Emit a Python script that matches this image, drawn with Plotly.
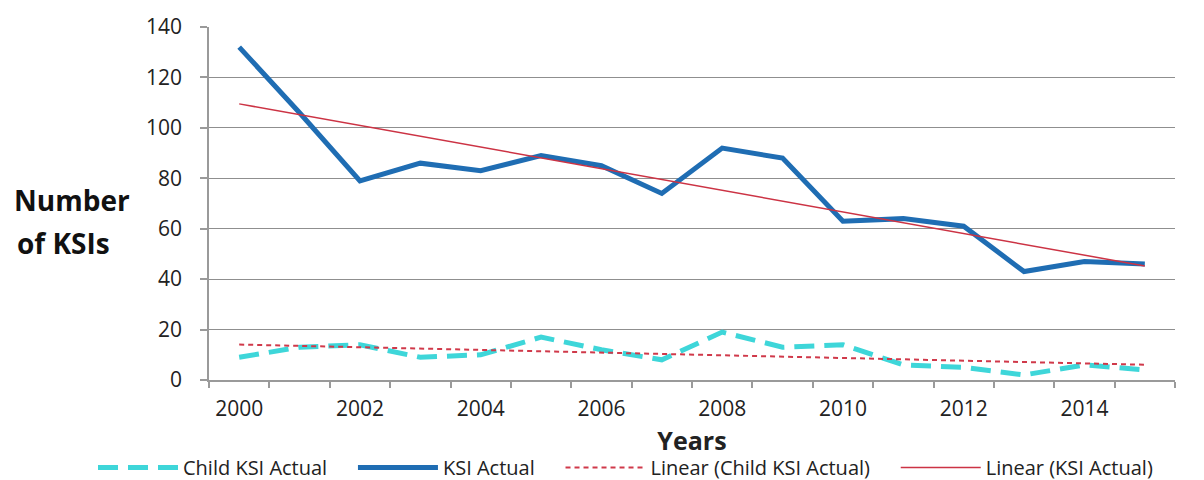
import numpy as np
import plotly.graph_objects as go

years = list(range(2000, 2016))
ksi_actual = [132, 106, 79, 86, 83, 89, 85, 74, 92, 88, 63, 64, 61, 43, 47, 46]
child_ksi_actual = [9, 13, 14, 9, 10, 17, 12, 8, 19, 13, 14, 6, 5, 2, 6, 4]
y_ticks = [0, 20, 40, 60, 80, 100, 120, 140]
x_tick_labels = [2000, 2002, 2004, 2006, 2008, 2010, 2012, 2014]

x = np.array(years, dtype=float)
k_fit = np.polyval(np.polyfit(x, ksi_actual, 1), x)
c_fit = np.polyval(np.polyfit(x, child_ksi_actual, 1), x)

FONT = "Open Sans"
W, H = 1196, 472
ML, MT, MR, MB = 201, 19, 29, 100
PH = H - MT - MB
PW = W - ML - MR
PAD = "\u00a0" * 4

fig = go.Figure()
fig.add_trace(go.Scatter(x=years, y=child_ksi_actual, mode="lines", name="Child KSI Actual" + PAD,
                         line=dict(color="#3ed6d9", width=5, dash="20px,10px")))
fig.add_trace(go.Scatter(x=years, y=ksi_actual, mode="lines", name="KSI Actual" + PAD,
                         line=dict(color="#1f6db3", width=5)))
fig.add_trace(go.Scatter(x=years, y=c_fit, mode="lines", name="Linear (Child KSI Actual)" + PAD,
                         line=dict(color="#d0394a", width=2, dash="5px,4px")))
fig.add_trace(go.Scatter(x=years, y=k_fit, mode="lines", name="Linear (KSI Actual)",
                         line=dict(color="#cc3344", width=1.5)))

boundaries = [y - 0.5 for y in years] + [years[-1] + 0.5]

fig.update_layout(
    width=W, height=H,
    margin=dict(l=ML, r=MR, t=MT, b=MB, autoexpand=False),
    paper_bgcolor="white", plot_bgcolor="white",
    font=dict(family=FONT, size=20, color="#222"),
    xaxis=dict(range=[1999.5, 2015.5], tickmode="array", tickvals=x_tick_labels,
               ticktext=[str(v) for v in x_tick_labels], ticks="", showgrid=False,
               showline=True, linecolor="#9a9a9a", linewidth=1.5, zeroline=False,
               tickfont=dict(size=21), automargin=False, ticklabelstandoff=9,
               minor=dict(tickmode="array", tickvals=boundaries, ticks="outside",
                          ticklen=6, tickcolor="#9a9a9a", tickwidth=1.5, showgrid=False),
               title=dict(text="<b>Years</b>", font=dict(size=25), standoff=12)),
    yaxis=dict(range=[0, 140], tickmode="array", tickvals=y_ticks, ticks="outside",
               ticklen=7, tickcolor="#9a9a9a", tickwidth=1.5,
               showgrid=True, gridcolor="#8f8f8f", gridwidth=1.3,
               showline=True, linecolor="#9a9a9a", linewidth=1.5, zeroline=False,
               tickfont=dict(size=21), ticklabelstandoff=14, automargin=False),
    legend=dict(orientation="h", x=(85 - ML) / PW, xanchor="left",
                y=-(MB + 7) / PH, yanchor="bottom", itemwidth=80,
                font=dict(size=20), bgcolor="rgba(0,0,0,0)", tracegroupgap=0),
    showlegend=True,
)

fig.add_annotation(text="<b>Number</b>", xref="paper", yref="paper",
                   x=(4 - ML) / PW, y=(H - MB - 192) / PH, xanchor="left", yanchor="middle",
                   showarrow=False, font=dict(size=28, family=FONT, color="#111"))
fig.add_annotation(text="<b>of KSIs</b>", xref="paper", yref="paper",
                   x=(7 - ML) / PW, y=(H - MB - 235) / PH, xanchor="left", yanchor="middle",
                   showarrow=False, font=dict(size=28, family=FONT, color="#111"))

fig.write_html("out.html")
